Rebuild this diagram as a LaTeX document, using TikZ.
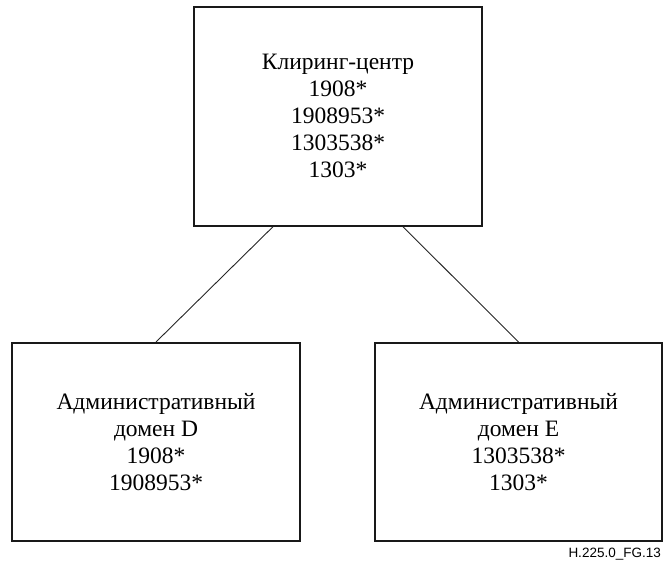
\documentclass[tikz,border=0pt]{standalone}
\usepackage{fontspec}
\setmainfont{Liberation Serif}
\newfontfamily\labelfont{Liberation Sans}
\usetikzlibrary{calc}
\begin{document}
\begin{tikzpicture}[x=1pt,y=-1pt,
  boxnode/.style={draw=black!90, line width=2pt, rectangle, inner sep=0pt, align=center,
    font=\fontsize{23.5}{27}\selectfont},
  link/.style={draw=black!85, line width=0.9pt}]
\useasboundingbox (0,0) rectangle (664,565);
\node[boxnode, minimum width=288pt, minimum height=219pt] (top) at (338,116.2)
  {Клиринг-центр\\1908*\\1908953*\\1303538*\\1303*};
\node[boxnode, minimum width=288pt, minimum height=198pt] (left) at (156,442)
  {Административный\\домен D\\1908*\\1908953*};
\node[boxnode, minimum width=287pt, minimum height=198pt] (right) at (518.5,442)
  {Административный\\домен E\\1303538*\\1303*};
\coordinate (tl) at ($(top.south)+(-65,0)$);
\coordinate (tr) at ($(top.south)+(65,0)$);
\draw[link] (tl) -- (left.north);
\draw[link] (tr) -- (right.north);
\node[anchor=base east, inner sep=0pt, font=\labelfont\fontsize{13.5}{16}\selectfont] (fig) at (661,557) {H.225.0\_FG.13};
\end{tikzpicture}
\end{document}
